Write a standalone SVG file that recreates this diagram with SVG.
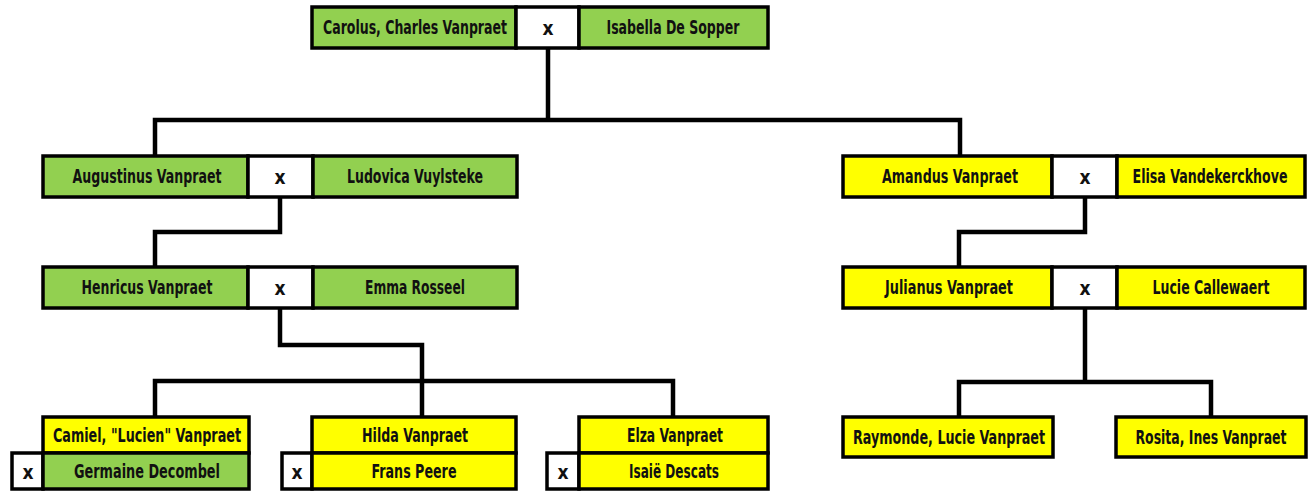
<svg xmlns="http://www.w3.org/2000/svg" width="1313" height="491" viewBox="0 0 1313 491">
<style>
.g{fill:#92D050;stroke:#000;stroke-width:3.5}
.y{fill:#FFFF00;stroke:#000;stroke-width:3.5}
.w{fill:#FFFFFF;stroke:#000;stroke-width:3.5}
text{font-family:"DejaVu Sans Condensed","Liberation Sans",sans-serif;font-weight:bold;font-size:19px;fill:#111;text-anchor:middle;dominant-baseline:central}
.c{fill:none;stroke:#000;stroke-width:4.5;stroke-linejoin:miter}
</style>
<rect width="1313" height="491" fill="#fff"/>
<g id="connectors">
<path class="c" d="M548 48 V120 M155 158 V120 H960 V158"/>
<path class="c" d="M280 197 V232 H155 V268"/>
<path class="c" d="M1085 197 V232 H959 V268"/>
<path class="c" d="M280 308 V345 H422 V417 M155 417 V381 H673 V417"/>
<path class="c" d="M1085 308 V382 M959 417 V382 H1211 V417"/>
</g>
<g id="carolus-isabella">
<rect class="g" x="312" y="7" width="204" height="41"/><rect class="w" x="516" y="7" width="63" height="41"/><rect class="g" x="579" y="7" width="189" height="41"/>
<text x="415" y="27" textLength="184" lengthAdjust="spacingAndGlyphs">Carolus, Charles Vanpraet</text><text x="548" y="28">x</text><text x="673" y="27" textLength="133" lengthAdjust="spacingAndGlyphs">Isabella De Sopper</text>
</g>
<g id="augustinus-ludovica">
<rect class="g" x="43" y="156" width="205" height="41"/><rect class="w" x="248" y="156" width="65" height="41"/><rect class="g" x="313" y="156" width="204" height="41"/>
<text x="147" y="176" textLength="149" lengthAdjust="spacingAndGlyphs">Augustinus Vanpraet</text><text x="280" y="177">x</text><text x="415" y="176" textLength="136" lengthAdjust="spacingAndGlyphs">Ludovica Vuylsteke</text>
</g>
<g id="amandus-elisa">
<rect class="y" x="843" y="156" width="209" height="41"/><rect class="w" x="1052" y="156" width="65" height="41"/><rect class="y" x="1117" y="156" width="188" height="41"/>
<text x="950" y="176" textLength="136" lengthAdjust="spacingAndGlyphs">Amandus Vanpraet</text><text x="1085" y="177">x</text><text x="1210" y="176" textLength="155" lengthAdjust="spacingAndGlyphs">Elisa Vandekerckhove</text>
</g>
<g id="henricus-emma">
<rect class="g" x="43" y="267" width="205" height="41"/><rect class="w" x="248" y="267" width="65" height="41"/><rect class="g" x="313" y="267" width="204" height="41"/>
<text x="147" y="287" textLength="131" lengthAdjust="spacingAndGlyphs">Henricus Vanpraet</text><text x="280" y="288">x</text><text x="415" y="287" textLength="100" lengthAdjust="spacingAndGlyphs">Emma Rosseel</text>
</g>
<g id="julianus-lucie">
<rect class="y" x="843" y="267" width="209" height="41"/><rect class="w" x="1052" y="267" width="65" height="41"/><rect class="y" x="1117" y="267" width="188" height="41"/>
<text x="949" y="287" textLength="128" lengthAdjust="spacingAndGlyphs">Julianus Vanpraet</text><text x="1085" y="288">x</text><text x="1211" y="287" textLength="117" lengthAdjust="spacingAndGlyphs">Lucie Callewaert</text>
</g>
<g id="camiel-germaine">
<rect class="y" x="43" y="417" width="206" height="36"/><rect class="w" x="12" y="453" width="31" height="36"/><rect class="g" x="43" y="453" width="206" height="36"/>
<text x="147" y="435" textLength="188" lengthAdjust="spacingAndGlyphs">Camiel, "Lucien" Vanpraet</text><text x="28" y="472">x</text><text x="147" y="471" textLength="146" lengthAdjust="spacingAndGlyphs">Germaine Decombel</text>
</g>
<g id="hilda-frans">
<rect class="y" x="312" y="417" width="204" height="36"/><rect class="w" x="282" y="453" width="30" height="36"/><rect class="y" x="312" y="453" width="204" height="36"/>
<text x="415" y="435" textLength="106" lengthAdjust="spacingAndGlyphs">Hilda Vanpraet</text><text x="297" y="472">x</text><text x="414" y="471" textLength="85" lengthAdjust="spacingAndGlyphs">Frans Peere</text>
</g>
<g id="elza-isaie">
<rect class="y" x="579" y="417" width="189" height="36"/><rect class="w" x="547" y="453" width="32" height="36"/><rect class="y" x="579" y="453" width="189" height="36"/>
<text x="675" y="435" textLength="96" lengthAdjust="spacingAndGlyphs">Elza Vanpraet</text><text x="563" y="472">x</text><text x="674" y="471" textLength="90" lengthAdjust="spacingAndGlyphs">Isaië Descats</text>
</g>
<g id="raymonde">
<rect class="y" x="843" y="417" width="210" height="40"/>
<text x="949" y="437" textLength="192" lengthAdjust="spacingAndGlyphs">Raymonde, Lucie Vanpraet</text>
</g>
<g id="rosita">
<rect class="y" x="1116" y="417" width="190" height="40"/>
<text x="1211" y="437" textLength="151" lengthAdjust="spacingAndGlyphs">Rosita, Ines Vanpraet</text>
</g>
</svg>
